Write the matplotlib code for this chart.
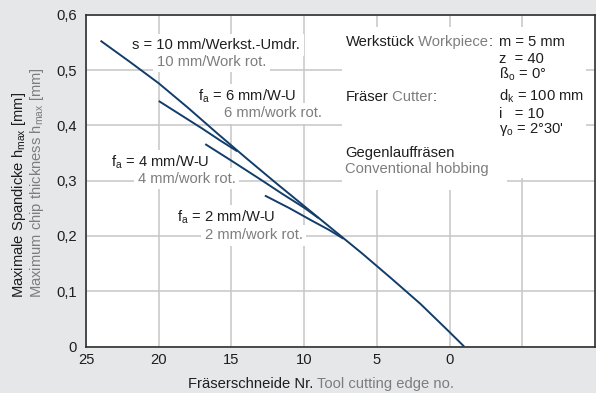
import matplotlib
matplotlib.use("Agg")
import matplotlib.pyplot as plt
from matplotlib.patches import Rectangle

plt.rcParams['font.family'] = ['Liberation Sans', 'DejaVu Sans']
plt.rcParams['mathtext.fontset'] = 'custom'
plt.rcParams['mathtext.rm'] = 'Liberation Sans'
plt.rcParams['mathtext.it'] = 'Liberation Sans:italic'

# Chip thickness over cutter edge number, for several axial feeds
edge_s10 = [24, 22, 20, 18, 16, 14, 12, 10, 8, 6, 4, 2, 0, -1]
h_s10 = [0.553, 0.515, 0.476, 0.432, 0.386, 0.341, 0.297, 0.254, 0.211, 0.168, 0.123, 0.077, 0.026, 0.0]

edge_f6 = [20, 18.5, 17, 15.8, 14.6]
h_f6 = [0.444, 0.419, 0.394, 0.373, 0.353]

edge_f4 = [16.8, 15, 13, 11.5, 10, 9]
h_f4 = [0.366, 0.336, 0.302, 0.276, 0.251, 0.232]

edge_f2 = [12.7, 11, 9.5, 8.3, 7.3]
h_f2 = [0.273, 0.250, 0.228, 0.211, 0.195]

x_ticks = [25, 20, 15, 10, 5, 0, -5]
x_tick_labels = ['25', '20', '15', '10', '5', '0', '']
y_ticks = [0, 0.1, 0.2, 0.3, 0.4, 0.5, 0.6]
y_tick_labels = ['0', '0,1', '0,2', '0,3', '0,4', '0,5', '0,6']

BG = '#e6e7e9'
INK = '#1e1e1e'
GREY = '#7d7d7d'
CURVE = '#123d6b'
FS = 10.6

W, H = 596, 393
fig = plt.figure(figsize=(W / 100, H / 100), dpi=100, facecolor=BG)
ax = fig.add_axes([86 / W, 1 - 346.5 / H, (595 - 86) / W, (346.5 - 14.7) / H])
ax.set_facecolor('white')
ax.set_xlim(25, -10)
ax.set_ylim(0, 0.6)

ax.set_xticks(x_ticks)
ax.set_xticklabels(x_tick_labels)
ax.set_yticks(y_ticks)
ax.set_yticklabels(y_tick_labels)
ax.tick_params(axis='both', length=0, labelsize=FS, labelcolor=INK)
ax.tick_params(axis='x', pad=5)
ax.tick_params(axis='y', pad=6.5)
ax.grid(True, color='#c6c6c6', linewidth=1.1, zorder=0)
ax.set_axisbelow(True)
for sp in ax.spines.values():
    sp.set_color('#303030')
    sp.set_linewidth(1.2)

# white panels behind the parameter block
ax.add_patch(Rectangle((0.503, 0.508), 0.479, 0.455, transform=ax.transAxes,
                       facecolor='white', edgecolor='none', zorder=1))
ax.add_patch(Rectangle((0.503, 0.472), 0.324, 0.151, transform=ax.transAxes,
                       facecolor='white', edgecolor='none', zorder=1))

for xs, ys in [(edge_s10, h_s10), (edge_f6, h_f6), (edge_f4, h_f4), (edge_f2, h_f2)]:
    ax.plot(xs, ys, color=CURVE, linewidth=1.4, zorder=4, solid_capstyle='butt')

box = dict(boxstyle='square,pad=0.25', facecolor='white', edgecolor='none')


def label(x, y, s, color):
    ax.text(x, y, s, color=color, fontsize=FS, ha='left', va='baseline',
            bbox=box, zorder=3)


sub_a = r'f$_\mathregular{a}$'
label(21.84, 0.538, 's = 10 mm/Werkst.-Umdr.', INK)
label(20.12, 0.508, '10 mm/Work rot.', GREY)
label(17.31, 0.444, sub_a + ' = 6 mm/W-U', INK)
label(15.52, 0.4145, '6 mm/work rot.', GREY)
label(23.28, 0.325, sub_a + ' = 4 mm/W-U', INK)
label(21.43, 0.296, '4 mm/work rot.', GREY)
label(18.75, 0.2257, sub_a + ' = 2 mm/W-U', INK)
label(16.83, 0.194, '2 mm/work rot.', GREY)


def chained(x, y, parts):
    prev = ax.text(x, y, parts[0][0], color=parts[0][1], fontsize=FS,
                   ha='left', va='baseline', zorder=3)
    for s, c in parts[1:]:
        prev = ax.annotate(s, xy=(1, 0), xycoords=prev, color=c, fontsize=FS,
                           ha='left', va='bottom', zorder=3)


left_x = 7.16
val_x = -3.43
chained(left_x, 0.544, [('Werkstück', INK), (' Workpiece', GREY), (':', INK)])
chained(left_x, 0.444, [('Fräser', INK), (' Cutter', GREY), (':', INK)])
ax.text(left_x, 0.343, 'Gegenlauffräsen', color=INK, fontsize=FS, ha='left', va='baseline', zorder=3)
ax.text(left_x, 0.313, 'Conventional hobbing', color=GREY, fontsize=FS, ha='left', va='baseline', zorder=3)

params = [
    (0.544, 'm = 5 mm'),
    (0.513, 'z  = 40'),
    (0.484, r'ß$_\mathregular{o}$ = 0°'),
    (0.444, r'd$_\mathregular{k}$ = 100 mm'),
    (0.4138, 'i   = 10'),
    (0.3855, r"γ$_\mathregular{o}$ = 2°30'"),
]
for y, s in params:
    ax.text(val_x, y, s, color=INK, fontsize=FS, ha='left', va='baseline', zorder=3)

# axis titles (German / English)
fig.text(23.5 / W, 1 - 298 / H, r'Maximale Spandicke h$_\mathregular{max}$ [mm]',
         rotation=90, rotation_mode='anchor', ha='left', va='baseline',
         color=INK, fontsize=FS)
fig.text(40.5 / W, 1 - 298 / H, r'Maximum chip thickness h$_\mathregular{max}$ [mm]',
         rotation=90, rotation_mode='anchor', ha='left', va='baseline',
         color=GREY, fontsize=FS)

xl = fig.text(188 / W, 1 - 388.3 / H, 'Fräserschneide Nr.', color=INK,
              fontsize=FS, ha='left', va='baseline')
ax.annotate(' Tool cutting edge no.', xy=(1, 0), xycoords=xl, color=GREY,
            fontsize=FS, ha='left', va='bottom', annotation_clip=False)

fig.savefig('out.png', dpi=100, facecolor=BG)
